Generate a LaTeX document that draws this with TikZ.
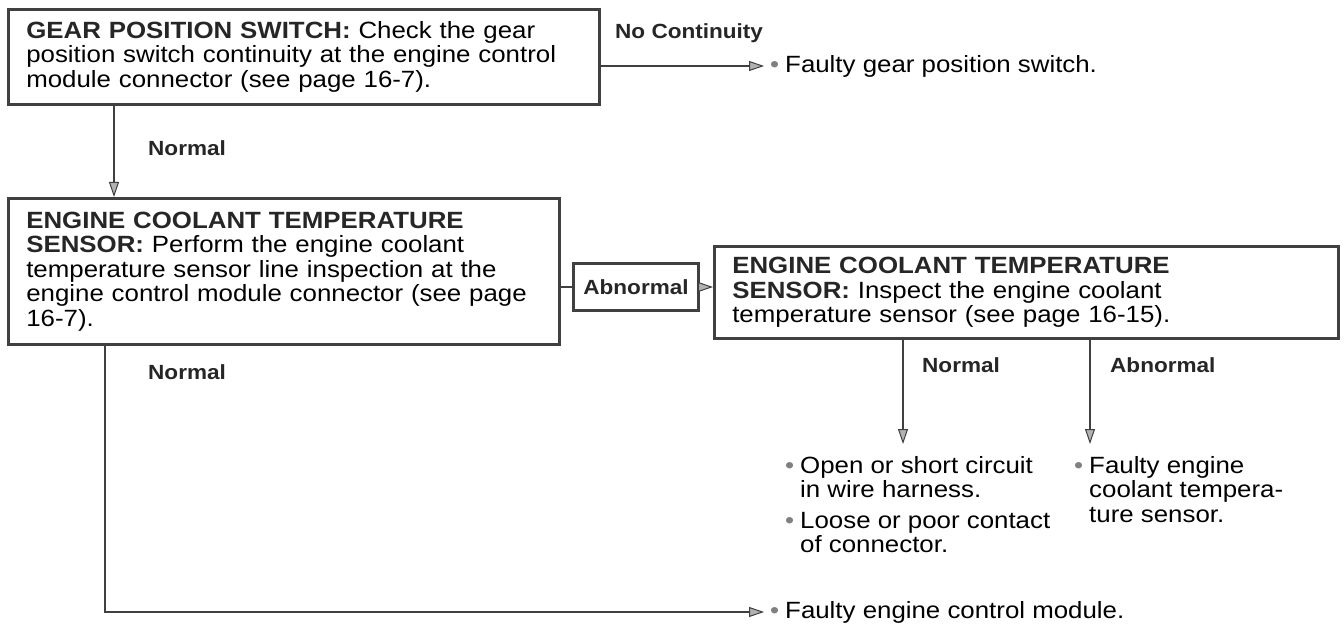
\documentclass[tikz,border=0pt]{standalone}
\usepackage{fontspec}
\setmainfont{Liberation Sans}[FakeStretch=1.1]
\usetikzlibrary{arrows.meta,positioning}
\tikzset{>=latex}
\colorlet{linecol}{black!75}
\colorlet{headcol}{black!85}
\colorlet{bulcol}{black!50}
\newcommand\bodyfont{\fontsize{23.5}{24.5}\selectfont}
\newcommand\lblfont{\fontsize{20.5}{22}\selectfont\bfseries}
\newcommand\hd[1]{{\bfseries\color{headcol}#1}}
\newcommand\bul{\makebox[15pt][l]{\color{bulcol}\textbullet}}
\tikzstyle{flow}=[linecol,line width=2.8pt]
\tikzstyle{arr}=[flow,-{Triangle[length=15pt,width=10pt,line width=1pt,fill=black!30]}]
\tikzstyle{box}=[draw=linecol,line width=2.6pt,rectangle,align=left,inner xsep=18pt,inner ysep=0pt,anchor=north west,font=\bodyfont]
\tikzstyle{lbl}=[font=\lblfont,text=headcol,anchor=west,inner sep=0pt]
\tikzstyle{item}=[font=\bodyfont,align=left,inner sep=0pt]

\begin{document}
\begin{tikzpicture}[x=1pt,y=-1pt]
  \useasboundingbox (0,0) rectangle (1344,644);
  \coordinate (dn1) at (114,0);   % first down line
  \coordinate (dn2) at (105,0);   % long return line
  \coordinate (dn3) at (903,0);   % sensor normal
  \coordinate (dn4) at (1090,0);  % sensor abnormal

  % BOXES
  \node[box,text width=555pt,minimum height=95pt] (gear) at (7,8)
    {\hd{GEAR POSITION SWITCH:} Check the gear\\
     position switch continuity at the engine control\\
     module connector (see page 16-7).};
  \node[box,text width=515pt,minimum height=146pt] (ect) at (7,197)
    {\hd{ENGINE COOLANT TEMPERATURE}\\
     \hd{SENSOR:} Perform the engine coolant\\
     temperature sensor line inspection at the\\
     engine control module connector (see page\\
     16-7).};
  \node[box,text width=588pt,minimum height=92pt] (sens) at (713,245)
    {\hd{ENGINE COOLANT TEMPERATURE}\\
     \hd{SENSOR:} Inspect the engine coolant\\
     temperature sensor (see page 16-15).};
  \node[draw=linecol,line width=2.6pt,font=\lblfont,text=headcol,
    minimum width=125pt,minimum height=47pt,inner sep=0pt] (abn) at (636,287) {Abnormal};

  % LABELS
  \node[lbl] (nocont) at (615,33) {No Continuity};
  \node[lbl] (norm1) at (148,148) {Normal};
  \node[lbl] (norm2) at (148,372) {Normal};
  \node[lbl] (norm3) at (922,365) {Normal};
  \node[lbl] (abn2) at (1110,365) {Abnormal};

  % RESULTS
  \node[item,anchor=west] (fgps) at (770,66) {\bul Faulty gear position switch.};
  \node[item,anchor=north west] (harn) at (785,456)
    {\bul Open or short circuit\\
     \hphantom{\bul}in wire harness.\\[6pt]
     \bul Loose or poor contact\\
     \hphantom{\bul}of connector.};
  \node[item,anchor=north west] (fects) at (1074,456)
    {\bul Faulty engine\\
     \hphantom{\bul}coolant tempera-\\
     \hphantom{\bul}ture sensor.};
  \node[item,anchor=west] (fecm) at (770,612) {\bul Faulty engine control module.};

  % CONNECTORS
  \draw[arr,shorten >=6pt] (gear.east |- fgps.west) -- (fgps.west);
  \draw[arr] (gear.south -| dn1) -- (ect.north -| dn1);
  \draw[flow] (ect.east |- abn.west) -- (abn.west);
  \draw[arr] (abn.east) -- (sens.west |- abn.east);
  \draw[arr,shorten >=12pt] (sens.south -| dn3) -- (dn3 |- harn.north);
  \draw[arr,shorten >=12pt] (sens.south -| dn4) -- (dn4 |- fects.north);
  \draw[arr,shorten >=6pt] (ect.south -| dn2) |- (fecm.west);
\end{tikzpicture}
\end{document}
